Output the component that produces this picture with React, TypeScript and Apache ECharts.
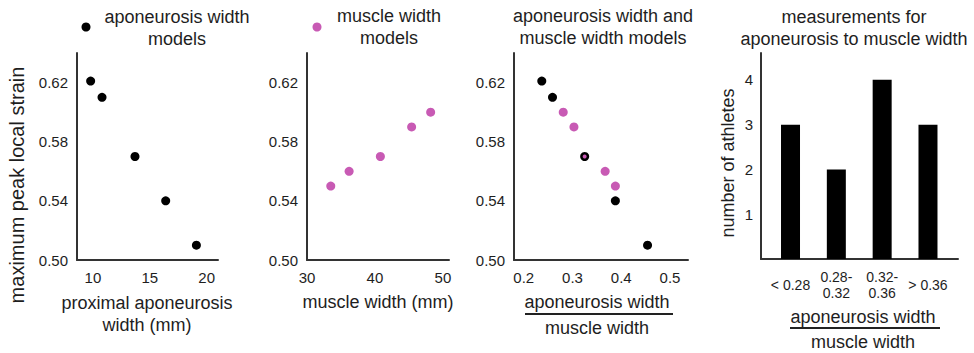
import React, { useEffect, useRef } from "react";
import * as echarts from "echarts";

const apoWidth = [9.8, 10.8, 13.7, 16.4, 19.1];
const apoStrain = [0.621, 0.61, 0.57, 0.54, 0.51];
const muscleWidth = [33.5, 36.2, 40.8, 45.4, 48.2];
const muscleStrain = [0.55, 0.56, 0.57, 0.59, 0.6];
const apoRatio = [0.237, 0.259, 0.325, 0.388, 0.454];
const muscleRatio = [0.388, 0.367, 0.325, 0.303, 0.281];
const bins = ["< 0.28", "0.28-\n0.32", "0.32-\n0.36", "> 0.36"];
const athleteCounts = [3, 2, 4, 3];
const strainTicks = [0.5, 0.54, 0.58, 0.62];
const apoTicks = [10, 15, 20];
const muscleTicks = [30, 40, 50];
const ratioTicks = [0.2, 0.3, 0.4, 0.5];
const countTicks = [1, 2, 3, 4];

const FONT = "'Liberation Sans', Arial, sans-serif";
const TXT = "#1e1e1e";
const AX = "#333333";
const BLACK = "#000000";
const PINK = "#c85ab4";

const axisLine = { show: true, onZero: false, lineStyle: { color: AX, width: 2 } };

function xAx(grid: number, min: number, max: number, ticks: number[], fmt: (v: number) => string, extra: any = {}) {
  return {
    type: "value",
    gridIndex: grid,
    min,
    max,
    axisLine,
    axisTick: { show: false },
    splitLine: { show: false },
    axisLabel: {
      customValues: ticks,
      formatter: fmt,
      fontSize: 15,
      color: TXT,
      fontFamily: FONT,
      verticalAlign: "middle",
      margin: 17,
      ...extra,
    },
  };
}

function yAx(grid: number, min: number, max: number, ticks: number[], fmt: (v: number) => string, extra: any = {}) {
  return {
    type: "value",
    gridIndex: grid,
    min,
    max,
    axisLine,
    axisTick: { show: false },
    splitLine: { show: false },
    axisLabel: {
      customValues: ticks,
      formatter: fmt,
      fontSize: 15,
      color: TXT,
      fontFamily: FONT,
      margin: 9,
      ...extra,
    },
  };
}

function text(x: number, y: number, t: string, extra: any = {}) {
  return {
    type: "text",
    x,
    y,
    style: {
      text: t,
      align: "center",
      verticalAlign: "middle",
      fontSize: 18,
      lineHeight: 22,
      fill: TXT,
      fontFamily: FONT,
      ...extra,
    },
  };
}

function hline(x1: number, x2: number, y: number) {
  return {
    type: "line",
    shape: { x1, y1: y, x2, y2: y },
    style: { stroke: "#222", lineWidth: 2 },
  };
}

export default function App() {
  const ref = useRef<HTMLDivElement>(null);
  useEffect(() => {
    if (!ref.current) return;
    const chart = echarts.init(ref.current, null, { renderer: "svg" });
    const f2 = (v: number) => v.toFixed(2);
    const f0 = (v: number) => String(Math.round(v));
    const f1 = (v: number) => v.toFixed(1);
    chart.setOption({
      animation: false,
      textStyle: { fontFamily: FONT },
      grid: [
        { left: 77, top: 53, width: 141, height: 207 },
        { left: 307, top: 53, width: 142, height: 207 },
        { left: 514, top: 53, width: 174, height: 207 },
        { left: 761, top: 53, width: 197, height: 206 },
      ],
      xAxis: [
        xAx(0, 8.6, 21, apoTicks, f0),
        xAx(1, 30, 50.9, muscleTicks, f0),
        xAx(2, 0.18, 0.537, ratioTicks, f1),
        xAx(3, 0.356, 4.655, countTicks, (v: number) => bins[Math.round(v) - 1], {
          fontSize: 14,
          lineHeight: 16,
          margin: 26,
        }),
      ],
      yAxis: [
        yAx(0, 0.5, 0.64, strainTicks, f2),
        yAx(1, 0.5, 0.64, strainTicks, f2),
        yAx(2, 0.5, 0.64, strainTicks, f2),
        yAx(3, 0, 4.6, countTicks, f0, { margin: 8 }),
      ],
      legend: [
        {
          data: ["aponeurosis width models"],
          left: 76.5,
          top: 17.5,
          icon: "circle",
          itemWidth: 9,
          itemHeight: 9,
          formatter: () => "",
          selectedMode: false,
        },
        {
          data: ["muscle width models"],
          left: 307.5,
          top: 17.5,
          icon: "circle",
          itemWidth: 9,
          itemHeight: 9,
          formatter: () => "",
          selectedMode: false,
        },
      ],
      series: [
        {
          name: "aponeurosis width models",
          type: "scatter",
          xAxisIndex: 0,
          yAxisIndex: 0,
          symbolSize: 9,
          itemStyle: { color: BLACK, opacity: 1 },
          data: apoWidth.map((x, i) => [x, apoStrain[i]]),
        },
        {
          name: "muscle width models",
          type: "scatter",
          xAxisIndex: 1,
          yAxisIndex: 1,
          symbolSize: 9,
          itemStyle: { color: PINK, opacity: 1 },
          data: muscleWidth.map((x, i) => [x, muscleStrain[i]]),
        },
        {
          name: "aponeurosis width ratio",
          type: "scatter",
          xAxisIndex: 2,
          yAxisIndex: 2,
          symbolSize: 9,
          itemStyle: { color: BLACK, opacity: 1 },
          data: apoRatio.map((x, i) => [x, apoStrain[i]]),
        },
        {
          name: "muscle width ratio",
          type: "scatter",
          xAxisIndex: 2,
          yAxisIndex: 2,
          symbolSize: 9,
          itemStyle: { color: PINK, opacity: 1 },
          data: muscleRatio.map((x, i) => {
            const overlap = apoRatio.some((a, j) => a === x && apoStrain[j] === muscleStrain[i]);
            return overlap ? { value: [x, muscleStrain[i]], symbolSize: 4 } : [x, muscleStrain[i]];
          }),
        },
        {
          name: "number of athletes",
          type: "bar",
          xAxisIndex: 3,
          yAxisIndex: 3,
          barWidth: 19,
          itemStyle: { color: BLACK },
          data: athleteCounts.map((c, i) => [i + 1, c]),
        },
      ],
      graphic: [
        text(177, 28, "aponeurosis width\nmodels"),
        text(389, 27, "muscle width\nmodels"),
        text(603, 27, "aponeurosis width and\nmuscle width models"),
        text(854, 28, "measurements for\naponeurosis to muscle width"),
        text(147, 314, "proximal aponeurosis\nwidth (mm)"),
        text(378, 302, "muscle width (mm)"),
        text(597, 302, "aponeurosis width"),
        hline(525, 673, 314),
        text(597, 328, "muscle width"),
        text(863, 317, "aponeurosis width"),
        hline(790, 940, 328),
        text(863, 342, "muscle width"),
        { ...text(0, 0, "maximum peak local strain", { fontSize: 20 }), x: 17, y: 185, rotation: Math.PI / 2 },
        { ...text(0, 0, "number of athletes"), x: 728, y: 163, rotation: Math.PI / 2 },
      ],
    });
    return () => chart.dispose();
  }, []);
  return (
    <div
      ref={ref}
      style={{ position: "fixed", left: 0, top: 0, width: 974, height: 353, background: "#fff" }}
    />
  );
}
